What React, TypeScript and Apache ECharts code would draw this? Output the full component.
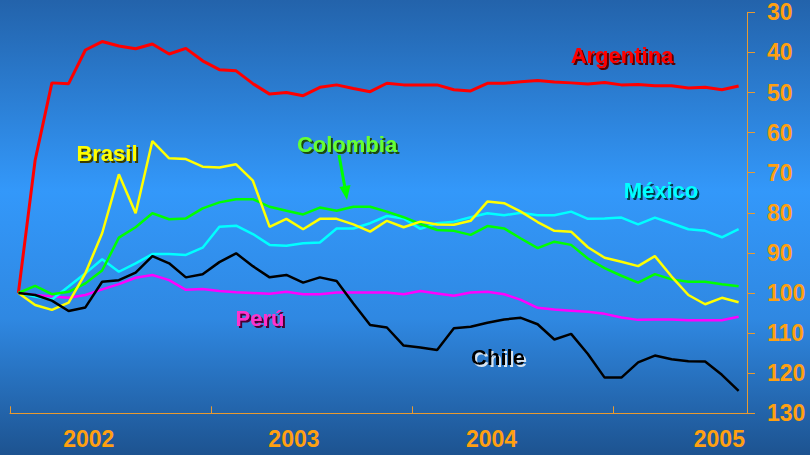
import React, { useEffect, useRef } from 'react';
import * as echarts from 'echarts';

const months = [
  '2002-01','2002-02','2002-03','2002-04','2002-05','2002-06','2002-07','2002-08','2002-09','2002-10','2002-11','2002-12',
  '2003-01','2003-02','2003-03','2003-04','2003-05','2003-06','2003-07','2003-08','2003-09','2003-10','2003-11','2003-12',
  '2004-01','2004-02','2004-03','2004-04','2004-05','2004-06','2004-07','2004-08','2004-09','2004-10','2004-11','2004-12',
  '2005-01','2005-02','2005-03','2005-04','2005-05','2005-06','2005-07','2005-08'
];

const yearLabels = ['2002', '2003', '2004', '2005'];

const argentina = [100, 66.9, 47.6, 47.8, 39.4, 37.3, 38.4, 39.1, 37.9, 40.4, 39.0, 42.1, 44.3, 44.6, 47.8, 50.4, 50.0, 50.8, 48.7, 48.1, 49.0, 49.8, 47.7, 48.1, 48.1, 48.1, 49.3, 49.6, 47.7, 47.7, 47.3, 47.0, 47.4, 47.6, 47.9, 47.5, 48.1, 48.0, 48.3, 48.3, 48.9, 48.7, 49.3, 48.4];
const brasil = [100, 103.0, 104.2, 102.4, 95.1, 85.1, 70.4, 80.1, 62.1, 66.4, 66.6, 68.5, 68.7, 67.9, 72.0, 83.5, 81.5, 84.1, 81.5, 81.5, 82.9, 84.7, 82.0, 83.6, 82.2, 82.9, 83.0, 82.0, 77.2, 77.6, 79.7, 82.3, 84.5, 84.7, 88.6, 91.2, 92.2, 93.3, 90.8, 95.9, 100.5, 102.8, 101.2, 102.3];
const colombia = [100, 98.2, 100.3, 99.7, 97.6, 94.4, 86.2, 83.6, 80.1, 81.6, 81.4, 78.9, 77.4, 76.6, 76.6, 78.5, 79.5, 80.4, 78.7, 79.5, 78.5, 78.5, 79.7, 81.1, 82.8, 84.3, 84.5, 85.5, 83.3, 83.9, 86.4, 88.8, 87.2, 88.0, 91.4, 93.8, 95.7, 97.4, 95.3, 96.6, 97.2, 97.2, 97.8, 98.3];
const mexico = [100, 100.9, 101.6, 98.4, 95.1, 91.6, 94.7, 92.6, 90.3, 90.3, 90.5, 88.7, 83.5, 83.2, 85.3, 88.0, 88.2, 87.6, 87.4, 83.9, 83.9, 82.6, 80.8, 81.4, 84.0, 82.6, 82.2, 81.1, 80.1, 80.6, 80.0, 80.6, 80.6, 79.7, 81.5, 81.4, 81.2, 82.9, 81.2, 82.6, 84.1, 84.5, 86.1, 84.1];
const peru = [100, 100.5, 100.9, 101.2, 100.5, 99.1, 97.8, 96.2, 95.5, 96.8, 99.2, 99.0, 99.5, 99.8, 100.0, 100.2, 99.7, 100.3, 100.3, 99.9, 99.9, 99.9, 99.9, 100.3, 99.5, 100.1, 100.7, 99.9, 99.7, 100.3, 101.7, 103.7, 104.1, 104.4, 104.7, 105.2, 106.1, 106.7, 106.6, 106.6, 106.8, 106.8, 106.8, 105.9];
const chile = [100, 100.5, 101.9, 104.5, 103.6, 97.2, 96.8, 94.9, 90.8, 92.6, 96.1, 95.3, 92.3, 90.1, 93.3, 96.1, 95.5, 97.4, 96.1, 97.0, 102.6, 108.0, 108.6, 113.1, 113.6, 114.2, 108.8, 108.4, 107.4, 106.6, 106.2, 107.8, 111.6, 110.2, 115.2, 121.1, 121.1, 117.3, 115.6, 116.5, 117.0, 117.1, 120.4, 124.4];

const ORANGE = '#ffa010';
const AXIS = '#e89a30';
const FONT = 'Arial, "Liberation Sans", Helvetica, sans-serif';

// layout positions (category index units) for the year labels
const yearLabelPos = [4.2, 16.45, 28.25, 41.85];

function label(text: string, x: number, y: number, fill: string, shadow: string) {
  return {
    type: 'text',
    x,
    y,
    z: 11,
    style: {
      text,
      font: `bold 22px ${FONT}`,
      textAlign: 'center',
      textVerticalAlign: 'middle',
      fill,
      textShadowColor: shadow,
      textShadowBlur: 1,
      textShadowOffsetX: 2,
      textShadowOffsetY: 2,
    },
  };
}

export default function App() {
  const ref = useRef<HTMLDivElement>(null);
  useEffect(() => {
    if (!ref.current) return;
    const chart = echarts.init(ref.current, undefined, { renderer: 'svg' });
    const mk = (name: string, data: number[], color: string, width = 2.5) => ({
      name,
      type: 'line',
      data,
      symbol: 'none',
      lineStyle: { color, width },
      itemStyle: { color },
      xAxisIndex: 0,
      yAxisIndex: 0,
    });
    const tip = [347, 200];
    chart.setOption({
      animation: false,
      backgroundColor: new echarts.graphic.LinearGradient(0, 0, 0, 1, [
        { offset: 0, color: '#2363ab' },
        { offset: 0.42, color: '#3398fa' },
        { offset: 0.7, color: '#2f88e2' },
        { offset: 1, color: '#1d5390' },
      ]),
      grid: { left: 10, right: 63, top: 12.3, bottom: 41.7, containLabel: false },
      xAxis: [
        {
          type: 'category',
          data: months,
          boundaryGap: true,
          axisLine: { show: true, onZero: false, lineStyle: { color: AXIS, width: 1 } },
          axisTick: { show: true, inside: true, length: 7, interval: 11, lineStyle: { color: AXIS } },
          axisLabel: { show: false },
          splitLine: { show: false },
        },
        {
          type: 'value',
          min: -0.5,
          max: 43.5,
          position: 'bottom',
          axisLine: { show: false, onZero: false },
          axisTick: { show: false },
          splitLine: { show: false },
          axisLabel: {
            customValues: yearLabelPos,
            color: ORANGE,
            fontWeight: 'bold',
            fontSize: 23,
            fontFamily: FONT,
            margin: 14,
            formatter: (v: number) => {
              let best = 0;
              yearLabelPos.forEach((p, i) => {
                if (Math.abs(p - v) < Math.abs(yearLabelPos[best] - v)) best = i;
              });
              return yearLabels[best];
            },
          },
        },
      ],
      yAxis: {
        type: 'value',
        inverse: true,
        min: 30,
        max: 130,
        interval: 10,
        position: 'right',
        axisLine: { show: true, onZero: false, lineStyle: { color: AXIS, width: 1 } },
        axisTick: { show: true, inside: false, length: 8, lineStyle: { color: AXIS } },
        splitLine: { show: false },
        axisLabel: { color: ORANGE, fontWeight: 'bold', fontSize: 23, fontFamily: FONT, margin: 20 },
      },
      series: [
        mk('Argentina', argentina, '#ff0000', 3),
        mk('Perú', peru, '#ff00ff'),
        mk('México', mexico, '#00ffff'),
        mk('Colombia', colombia, '#00ff00'),
        mk('Brasil', brasil, '#ffff00'),
        mk('Chile', chile, '#000000'),
      ],
      graphic: [
        label('Argentina', 622, 55, '#ff0000', '#5a0000'),
        label('Brasil', 107, 153, '#ffff00', '#3a3a00'),
        label('Colombia', 347, 144, '#66ff33', '#1a4a10'),
        label('México', 661, 190, '#00ffff', '#003a4a'),
        label('Perú', 260, 318, '#ff33cc', '#4a0030'),
        label('Chile', 498, 357, '#000000', '#d8e4f0'),
        {
          type: 'line',
          z: 12,
          shape: { x1: 339, y1: 155, x2: 345, y2: 188 },
          style: { stroke: '#00ff00', lineWidth: 3 },
        },
        {
          type: 'polygon',
          z: 12,
          shape: { points: [tip, [350.5, 185], [339.5, 187]] },
          style: { fill: '#00ff00' },
        },
      ],
    });
    return () => chart.dispose();
  }, []);
  return <div ref={ref} style={{ position: 'absolute', left: 0, top: 0, width: 810, height: 455 }} />;
}
